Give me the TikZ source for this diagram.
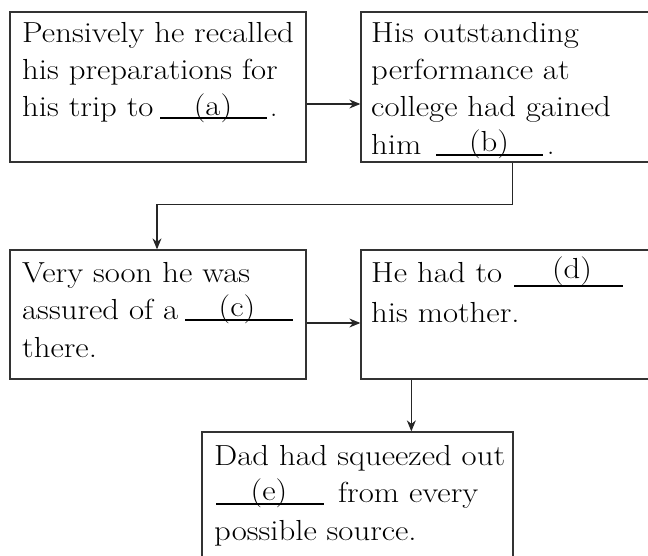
\documentclass[tikz,border=0pt]{standalone}
\usepackage{graphicx}
\usetikzlibrary{arrows.meta}
\newcommand\sx[1]{\scalebox{1.13}[1]{#1}}
\tikzset{
  box/.style={draw=black!80, line width=1.3pt, inner sep=0pt},
  txt/.style={anchor=base west, inner sep=0pt, font=\fontsize{29}{34}\selectfont},
  lab/.style={anchor=base, inner sep=0pt, font=\fontsize{29}{34}\selectfont},
  blank/.style={line width=1.1pt, black},
  arr/.style={line width=1.1pt, black!85, -{Stealth[length=11pt,width=9pt]}},
  link/.style={line width=1.1pt, black!85}
}
\begin{document}
\begin{tikzpicture}[x=1pt,y=-1pt]
\useasboundingbox (0,0) rectangle (648,556);
\clip (0,0) rectangle (648,556);
% boxes
\node[box, minimum width=296pt, minimum height=150pt] (A) at (158,87) {};
\node[box, minimum width=339pt, minimum height=150pt] (B) at (530.5,87) {};
\node[box, minimum width=296pt, minimum height=129pt] (C) at (158,314.5) {};
\node[box, minimum width=339pt, minimum height=129pt] (D) at (530.5,314.5) {};
\node[box, minimum width=311pt, minimum height=168pt] (E) at (357.5,516) {};
% text A
\node[txt] (a1) at (22,43) {\sx{Pensively he recalled}};
\node[txt] (a2) at (22,80) {\sx{his preparations for}};
\node[txt] (a3) at (22,117) {\sx{his trip to}};
\draw[blank] (160,118) -- (267,118);
\node[lab] (la) at (213,116) {\sx{(a)}};
\node[txt] (ap) at (270,117) {.};
% text B
\node[txt] (b1) at (371,43) {\sx{His outstanding}};
\node[txt] (b2) at (371,80) {\sx{performance at}};
\node[txt] (b3) at (371,117) {\sx{college had gained}};
\node[txt] (b4) at (371,155) {\sx{him}};
\draw[blank] (436,155) -- (543,155);
\node[lab] (lb) at (489,152) {\sx{(b)}};
\node[txt] (bp) at (547,155) {.};
% text C
\node[txt] (c1) at (22,282) {\sx{Very soon he was}};
\node[txt] (c2) at (22,319) {\sx{assured of a}};
\draw[blank] (185,320) -- (293,320);
\node[lab] (lc) at (237,316) {\sx{(c)}};
\node[txt] (c3) at (22,357) {\sx{there.}};
% text D
\node[txt] (d1) at (371,283) {\sx{He had to}};
\draw[blank] (514,286) -- (623,286);
\node[lab] (ld) at (572,279) {\sx{(d)}};
\node[txt] (d2) at (371,322) {\sx{his mother.}};
% text E
\node[txt] (e1) at (214,465) {\sx{Dad had squeezed out}};
\draw[blank] (216,504) -- (324,504);
\node[lab] (le) at (269,500) {\sx{(e)}};
\node[txt] (e2) at (338,502) {\sx{from every}};
\node[txt] (e3) at (214,540) {\sx{possible source.}};
% connectors
\draw[arr] ([yshift=-17pt]A.east) -- ([yshift=-17pt]B.west);
\coordinate (bc) at ([xshift=152pt,yshift=-42pt]B.south west);
\draw[arr] ([xshift=152pt]B.south west) -- (bc) -| ([xshift=-1pt]C.north);
\draw[arr] ([yshift=-8.5pt]C.east) -- ([yshift=-8.5pt]D.west);
\draw[arr] ([xshift=51pt]D.south west) -- ([xshift=51pt]D.south west |- E.north);
\end{tikzpicture}
\end{document}
